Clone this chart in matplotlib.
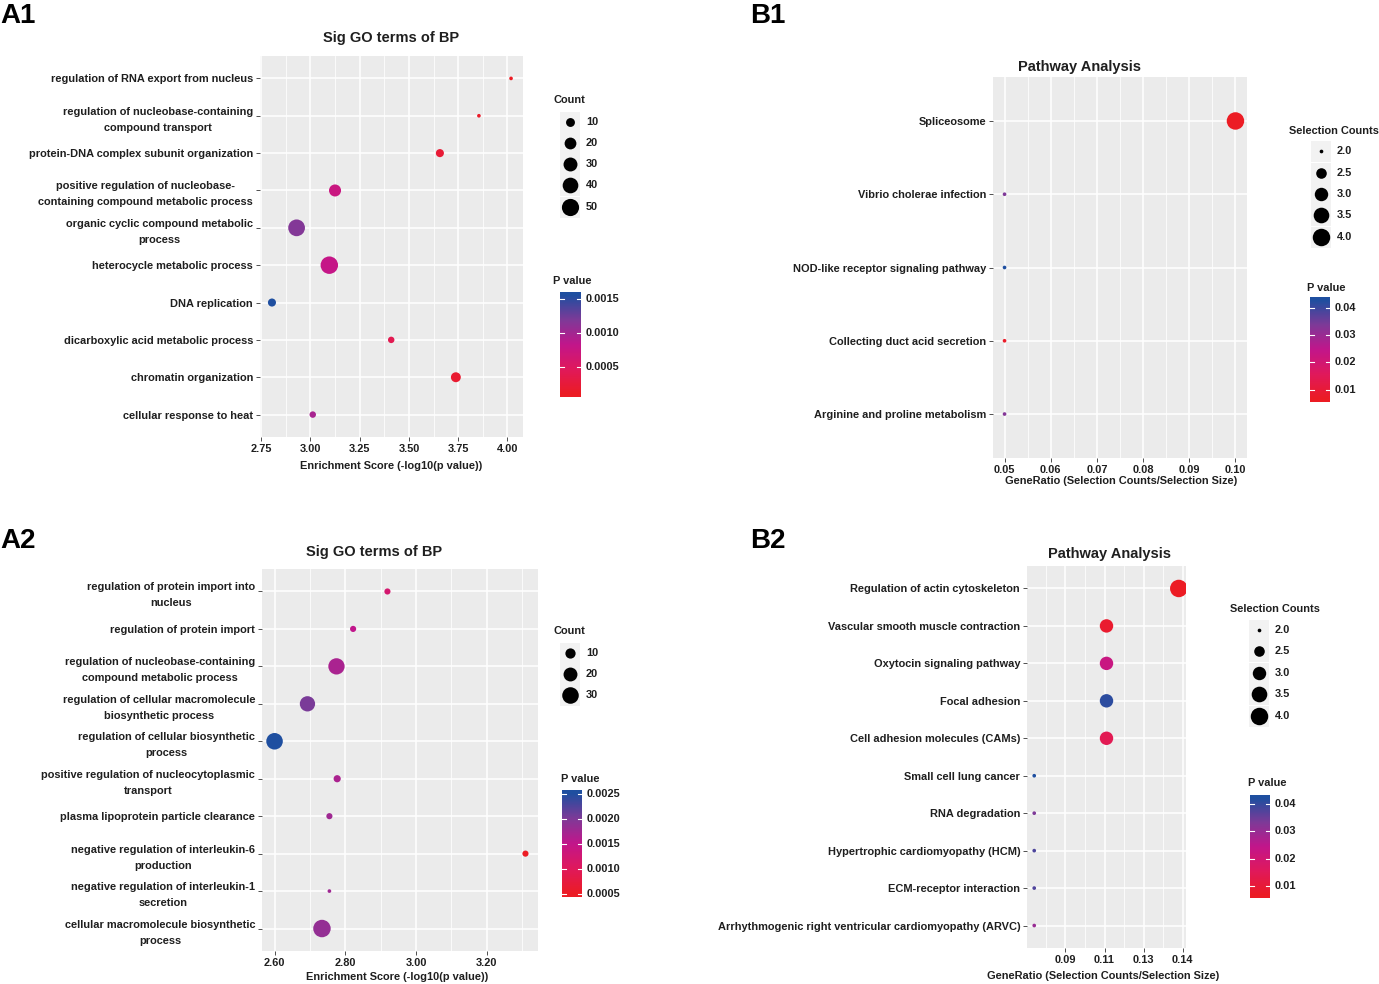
import numpy as np
import matplotlib
matplotlib.use('Agg')
import matplotlib.pyplot as plt
from matplotlib.colors import LinearSegmentedColormap, Normalize
from matplotlib.patches import Rectangle

W, H = 1379, 984
DPI = 100
plt.rcParams['font.family'] = ['Liberation Sans', 'DejaVu Sans']
TXT = '#1f1f1f'
FS = 7.9

# ---------------- data ----------------
a1_terms = ["regulation of RNA export from nucleus",
            "regulation of nucleobase-containing\ncompound transport",
            "protein-DNA complex subunit organization",
            "positive regulation of nucleobase-\ncontaining compound metabolic process",
            "organic cyclic compound metabolic\nprocess",
            "heterocycle metabolic process",
            "DNA replication",
            "dicarboxylic acid metabolic process",
            "chromatin organization",
            "cellular response to heat"]
a1_score = [4.018, 3.855, 3.657, 3.125, 2.930, 3.096, 2.805, 3.410, 3.738, 3.012]
a1_count = [3, 3, 8, 21, 47, 52, 8, 5, 13, 5]
a1_xticks = [2.75, 3.00, 3.25, 3.50, 3.75, 4.00]
a1_xticklabels = ["2.75", "3.00", "3.25", "3.50", "3.75", "4.00"]
a1_count_breaks = [10, 20, 30, 40, 50]
a1_p_ticks = [0.0005, 0.0010, 0.0015]
a1_p_ticklabels = ["0.0005", "0.0010", "0.0015"]

a2_terms = ["regulation of protein import into\nnucleus",
            "regulation of protein import",
            "regulation of nucleobase-containing\ncompound metabolic process",
            "regulation of cellular macromolecule\nbiosynthetic process",
            "regulation of cellular biosynthetic\nprocess",
            "positive regulation of nucleocytoplasmic\ntransport",
            "plasma lipoprotein particle clearance",
            "negative regulation of interleukin-6\nproduction",
            "negative regulation of interleukin-1\nsecretion",
            "cellular macromolecule biosynthetic\nprocess"]
a2_score = [2.919, 2.822, 2.775, 2.693, 2.600, 2.777, 2.755, 3.309, 2.755, 2.734]
a2_count = [4, 4, 29, 25, 30, 5, 4, 4, 3, 34]
a2_xticks = [2.6, 2.8, 3.0, 3.2]
a2_xticklabels = ["2.60", "2.80", "3.00", "3.20"]
a2_count_breaks = [10, 20, 30]
a2_p_ticks = [0.0005, 0.0010, 0.0015, 0.0020, 0.0025]
a2_p_ticklabels = ["0.0005", "0.0010", "0.0015", "0.0020", "0.0025"]

b1_terms = ["Spliceosome", "Vibrio cholerae infection",
            "NOD-like receptor signaling pathway",
            "Collecting duct acid secretion",
            "Arginine and proline metabolism"]
b1_ratio = [0.10, 0.05, 0.05, 0.05, 0.05]
b1_count = [4, 2, 2, 2, 2]
b1_p = [0.0066, 0.0335, 0.0428, 0.0075, 0.0330]
b1_xticks = [0.05, 0.06, 0.07, 0.08, 0.09, 0.10]
b1_xticklabels = ["0.05", "0.06", "0.07", "0.08", "0.09", "0.10"]

b2_terms = ["Regulation of actin cytoskeleton",
            "Vascular smooth muscle contraction",
            "Oxytocin signaling pathway",
            "Focal adhesion",
            "Cell adhesion molecules (CAMs)",
            "Small cell lung cancer",
            "RNA degradation",
            "Hypertrophic cardiomyopathy (HCM)",
            "ECM-receptor interaction",
            "Arrhythmogenic right ventricular cardiomyopathy (ARVC)"]
b2_ratio = [0.148, 0.111, 0.111, 0.111, 0.111, 0.074, 0.074, 0.074, 0.074, 0.074]
b2_count = [4, 3, 3, 3, 3, 2, 2, 2, 2, 2]
b2_p = [0.0065, 0.0083, 0.0225, 0.0410, 0.0140, 0.0424, 0.0334, 0.0380, 0.0378, 0.0300]
b2_xticks = [0.09, 0.11, 0.13, 0.15]
b2_xticklabels = ["0.09", "0.11", "0.13", "0.14"]

sel_breaks = [2.0, 2.5, 3.0, 3.5, 4.0]
sel_labels = ["2.0", "2.5", "3.0", "3.5", "4.0"]
b_p_ticks = [0.01, 0.02, 0.03, 0.04]
b_p_ticklabels = ["0.01", "0.02", "0.03", "0.04"]

# ---------------- styling helpers ----------------
cmap = LinearSegmentedColormap.from_list(
    'rb', [(0.0, '#EC1C24'), (0.25, '#E0195C'), (0.5, '#C2168B'),
           (0.75, '#7E3A98'), (1.0, '#1F4FA0')])


def diam_px(c, cmin, cmax):
    frac = np.clip((np.asarray(c, float) - cmin) / (cmax - cmin), 0, 1)
    size = 1 + 5 * np.sqrt(frac)
    return 0.97 * (size * 2.845 + 0.945)


def s_area(d):
    return (np.asarray(d) * 72.0 / DPI) ** 2


fig = plt.figure(figsize=(W / DPI, H / DPI), dpi=DPI)
fig.patch.set_facecolor('white')


def panel(box, terms, x, count, p, xticks, xticklabels, minor):
    l, t, r, b = box
    ax = fig.add_axes([l / W, 1 - b / H, (r - l) / W, (b - t) / H])
    n = len(terms)
    y = np.arange(n)[::-1]
    x = np.asarray(x, float)
    rng = x.max() - x.min()
    ax.set_xlim(x.min() - 0.05 * rng, x.max() + 0.05 * rng)
    ax.set_ylim(-0.6, n - 0.4)
    ax.set_facecolor('#EBEBEB')
    for s in ax.spines.values():
        s.set_visible(False)
    for m in minor:
        ax.axvline(m, color='white', lw=0.55, zorder=1)
    for v in xticks:
        ax.axvline(v, color='white', lw=1.1, zorder=1)
    for v in y:
        ax.axhline(v, color='white', lw=1.1, zorder=1)
    norm = Normalize(min(p), max(p))
    ax.scatter(x, y, s=s_area(diam_px(count, min(count), max(count))),
               c=p, cmap=cmap, norm=norm, linewidths=0, zorder=3)
    ax.set_yticks(y)
    ax.set_yticklabels(terms, fontsize=FS, fontweight='bold', color=TXT,
                       multialignment='center', linespacing=1.75)
    ax.set_xticks(xticks)
    ax.set_xticklabels(xticklabels, fontsize=FS, fontweight='bold', color=TXT)
    ax.tick_params(axis='both', length=2.75, width=0.6, color='#333333', pad=2.2)
    return ax


def ftext(x, y, s, **kw):
    kw.setdefault('fontsize', FS)
    kw.setdefault('fontweight', 'bold')
    kw.setdefault('color', TXT)
    kw.setdefault('va', 'center')
    fig.text(x / W, 1 - y / H, s, **kw)


# panels
panel((260, 56, 523, 437), a1_terms, a1_score, a1_count, 10 ** (-np.array(a1_score)),
      a1_xticks, a1_xticklabels, [2.875, 3.125, 3.375, 3.625, 3.875])
panel((993, 77, 1247, 458), b1_terms, b1_ratio, b1_count, b1_p,
      b1_xticks, b1_xticklabels, [0.055, 0.065, 0.075, 0.085, 0.095])
panel((262, 569, 538, 951), a2_terms, a2_score, a2_count, 10 ** (-np.array(a2_score)),
      a2_xticks, a2_xticklabels, [2.7, 2.9, 3.1, 3.3])
panel((1027, 566, 1186, 948), b2_terms, b2_ratio, b2_count, b2_p,
      b2_xticks, b2_xticklabels, [0.08, 0.10, 0.12, 0.14])

# titles / axis labels / panel letters
TFS = 10.5
ftext(391, 38, "Sig GO terms of BP", fontsize=TFS, ha='center')
ftext(1079, 67, "Pathway Analysis", fontsize=TFS, ha='center')
ftext(374, 552, "Sig GO terms of BP", fontsize=TFS, ha='center')
ftext(1109, 554, "Pathway Analysis", fontsize=TFS, ha='center')
ftext(391, 466, "Enrichment Score (-log10(p value))", ha='center')
ftext(1121, 481, "GeneRatio (Selection Counts/Selection Size)", ha='center')
ftext(397, 977, "Enrichment Score (-log10(p value))", ha='center')
ftext(1103, 976, "GeneRatio (Selection Counts/Selection Size)", ha='center')
for lab, xx, yy in [("A1", 0, 16), ("B1", 750, 16), ("A2", 0, 541), ("B2", 750, 541)]:
    ftext(xx, yy, lab, fontsize=20, ha='left', color='black')

# overlay for legends
ov = fig.add_axes([0, 0, 1, 1])
ov.set_axis_off()


def size_legend(title, tx, ty, kx, kys, breaks, labels, cmin, cmax):
    ftext(tx, ty, title, ha='left')
    d = diam_px(breaks, cmin, cmax)
    kw = 20
    for yk, dd, lb in zip(kys, d, labels):
        ov.add_patch(Rectangle((kx - kw / 2, yk - 10.5), kw, 21, facecolor='#F2F2F2',
                               edgecolor='none', zorder=1))
        ov.scatter([kx], [yk], s=s_area(dd), c='black', linewidths=0, zorder=3)
        ftext(kx + 16, yk, lb, ha='left')


def color_legend(title, tx, ty, l, t, r, b, vmin, vmax, ticks, labels):
    ftext(tx, ty, title, ha='left')
    pad = 0.03 * (vmax - vmin)
    lo, hi = vmin - pad, vmax + pad
    grad = np.linspace(hi, lo, 300)[:, None]
    ov.imshow(grad, extent=(l, r, b, t), cmap=cmap, norm=Normalize(vmin, vmax),
              aspect='auto', interpolation='bilinear', zorder=2)
    for v, lb in zip(ticks, labels):
        yy = b - (v - lo) / (hi - lo) * (b - t)
        ov.plot([l, l + 4], [yy, yy], color='white', lw=0.8, zorder=3)
        ov.plot([r - 4, r], [yy, yy], color='white', lw=0.8, zorder=3)
        ftext(r + 5, yy, lb, ha='left')


a1p = 10 ** (-np.array(a1_score))
a2p = 10 ** (-np.array(a2_score))
size_legend("Count", 553, 100, 570, [122, 143, 164, 185, 207], a1_count_breaks,
            [str(v) for v in a1_count_breaks], min(a1_count), max(a1_count))
color_legend("P value", 553, 281, 560, 292, 581, 397, a1p.min(), a1p.max(),
             a1_p_ticks, a1_p_ticklabels)
size_legend("Selection Counts", 1289, 131, 1321, [151, 173, 194, 215, 237], sel_breaks,
            sel_labels, min(b1_count), max(b1_count))
color_legend("P value", 1307, 288, 1310, 297, 1330, 402, min(b1_p), max(b1_p),
             b_p_ticks, b_p_ticklabels)
size_legend("Count", 553, 631, 570, [653, 674, 695], a2_count_breaks,
            [str(v) for v in a2_count_breaks], min(a2_count), max(a2_count))
color_legend("P value", 561, 779, 562, 790, 582, 897, a2p.min(), a2p.max(),
             a2_p_ticks, a2_p_ticklabels)
size_legend("Selection Counts", 1230, 609, 1259, [630, 651, 673, 694, 716], sel_breaks,
            sel_labels, min(b2_count), max(b2_count))
color_legend("P value", 1248, 783, 1250, 795, 1270, 898, min(b2_p), max(b2_p),
             b_p_ticks, b_p_ticklabels)

ov.set_xlim(0, W)
ov.set_ylim(H, 0)

fig.savefig('out.png', dpi=DPI)
